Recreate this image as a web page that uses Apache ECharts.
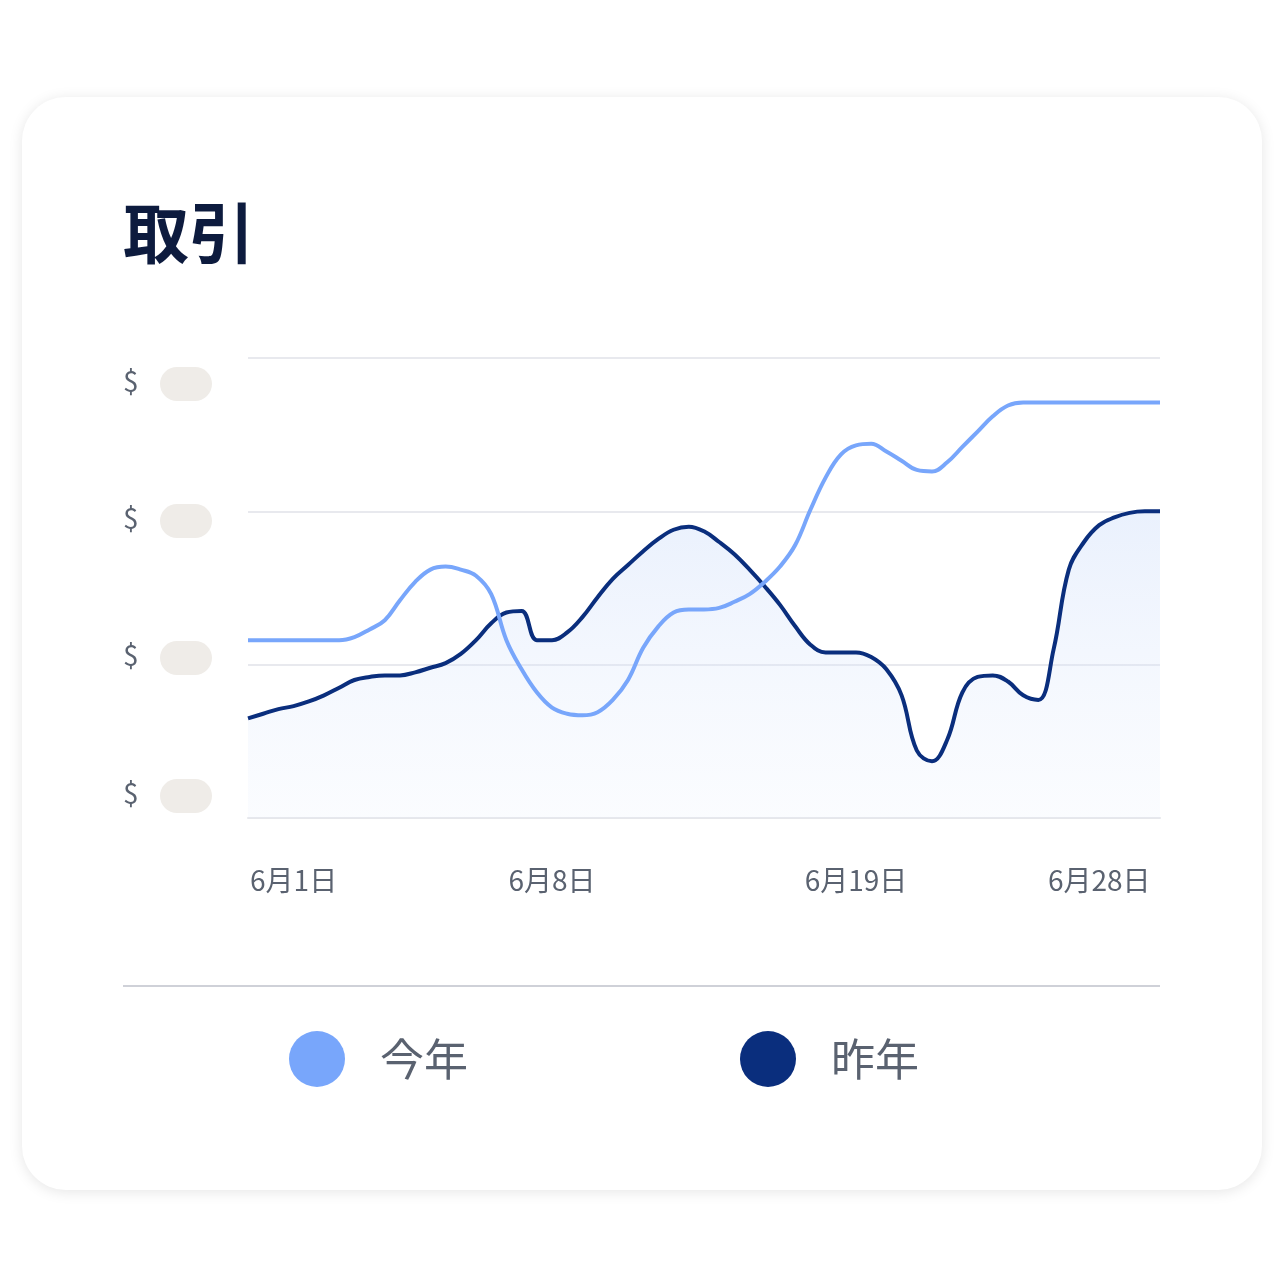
<!DOCTYPE html>
<html>
<head>
<meta charset="utf-8">
<script src="https://cdn.jsdelivr.net/npm/echarts@6/dist/echarts.min.js"></script>
<style>
  html, body { margin: 0; padding: 0; background: #fff; }
  #chart { width: 1280px; height: 1281px; }
</style>
</head>
<body>
<div id="chart"></div>
<script>
// days along the x axis (61 samples), only four are labelled
const days = Array.from({ length: 61 }, (_, i) => 'd' + i);
const tickLabels = { 3: '6月1日', 20: '6月8日', 40: '6月19日', 56: '6月28日' };

const thisYear = [1.16, 1.16, 1.16, 1.16, 1.16, 1.16, 1.16, 1.18, 1.23, 1.29,
  1.42, 1.54, 1.62, 1.64, 1.62, 1.58, 1.46, 1.16, 0.97, 0.82,
  0.72, 0.68, 0.67, 0.69, 0.77, 0.90, 1.11, 1.25, 1.34, 1.36,
  1.36, 1.37, 1.41, 1.46, 1.54, 1.64, 1.78, 2.01, 2.22, 2.37,
  2.43, 2.44, 2.39, 2.33, 2.27, 2.26, 2.32, 2.42, 2.52, 2.62,
  2.69, 2.71, 2.71, 2.71, 2.71, 2.71, 2.71, 2.71, 2.71, 2.71, 2.71];

const lastYear = [0.65, 0.68, 0.71, 0.73, 0.76, 0.80, 0.85, 0.90, 0.92, 0.93,
  0.93, 0.95, 0.98, 1.01, 1.07, 1.16, 1.27, 1.34, 1.35, 1.16,
  1.16, 1.21, 1.31, 1.44, 1.56, 1.65, 1.74, 1.82, 1.88, 1.90,
  1.87, 1.80, 1.72, 1.62, 1.51, 1.39, 1.25, 1.13, 1.08, 1.08,
  1.08, 1.05, 0.97, 0.80, 0.44, 0.37, 0.51, 0.82, 0.92, 0.93,
  0.89, 0.80, 0.77, 1.10, 1.62, 1.80, 1.91, 1.96, 1.99, 2.00, 2.00];

const seriesNames = ['今年', '昨年'];
const yLabelRows = [384, 521, 658, 796];

var myChart = echarts.init(document.getElementById('chart'));

// "$" labels with grey placeholder pills
const yDecor = [];
yLabelRows.forEach(y => {
  yDecor.push({ type: 'text', left: 123, top: y - 17, z: 10,
    style: { text: '$', font: '28px "Noto Sans CJK JP"', fill: '#5a6270' } });
  yDecor.push({ type: 'rect', shape: { x: 160, y: y - 17, width: 52, height: 34, r: 17 }, z: 10,
    style: { fill: '#efece8' } });
});

var option = {
  animation: false,
  graphic: [
    { type: 'rect', shape: { x: 22, y: 97, width: 1240, height: 1093, r: 44 }, z: -10,
      style: { fill: '#fff', shadowBlur: 14, shadowColor: 'rgba(0,0,0,0.10)', shadowOffsetY: 2 } },
    { type: 'text', left: 123, top: 200, z: 10,
      style: { text: '取引', font: 'bold 66px "Noto Sans CJK JP"', fill: '#0d1b3e' } },
    { type: 'line', shape: { x1: 123, y1: 986, x2: 1160, y2: 986 }, z: 10,
      style: { stroke: '#cfd1d8', lineWidth: 2 } }
  ].concat(yDecor),
  grid: { left: 248, right: 120, top: 358, bottom: 463 },
  legend: {
    left: 284, top: 1026, itemWidth: 56, itemHeight: 56, itemGap: 272, icon: 'circle',
    textStyle: { fontSize: 44, color: '#5a6270', fontFamily: 'Noto Sans CJK JP', padding: [0, 0, 0, 30] },
    data: seriesNames
  },
  xAxis: {
    type: 'category', data: days, boundaryGap: false,
    axisLine: { lineStyle: { color: '#e6e7eb', width: 2 } },
    axisTick: { show: false },
    axisLabel: {
      interval: 0, margin: 48, fontSize: 28, color: '#5a6270', fontFamily: 'Noto Sans CJK JP',
      formatter: (v, i) => tickLabels[i] || ''
    }
  },
  yAxis: {
    type: 'value', min: 0, max: 3, interval: 1,
    axisLabel: { show: false },
    splitLine: { lineStyle: { color: '#e8e9ee', width: 2 } }
  },
  series: [
    {
      name: seriesNames[0], type: 'line', data: thisYear, smooth: 0.4, symbol: 'none', z: 3,
      itemStyle: { color: '#78a6fb' }, lineStyle: { color: '#78a6fb', width: 4 }
    },
    {
      name: seriesNames[1], type: 'line', data: lastYear, smooth: 0.4, symbol: 'none', z: 2,
      itemStyle: { color: '#0a2e7d' }, lineStyle: { color: '#0a2e7d', width: 4 },
      areaStyle: {
        color: new echarts.graphic.LinearGradient(0, 0, 0, 1, [
          { offset: 0, color: 'rgba(200,218,250,0.55)' },
          { offset: 1, color: 'rgba(230,238,253,0.25)' }
        ])
      }
    }
  ]
};
myChart.setOption(option);
</script>
</body>
</html>
